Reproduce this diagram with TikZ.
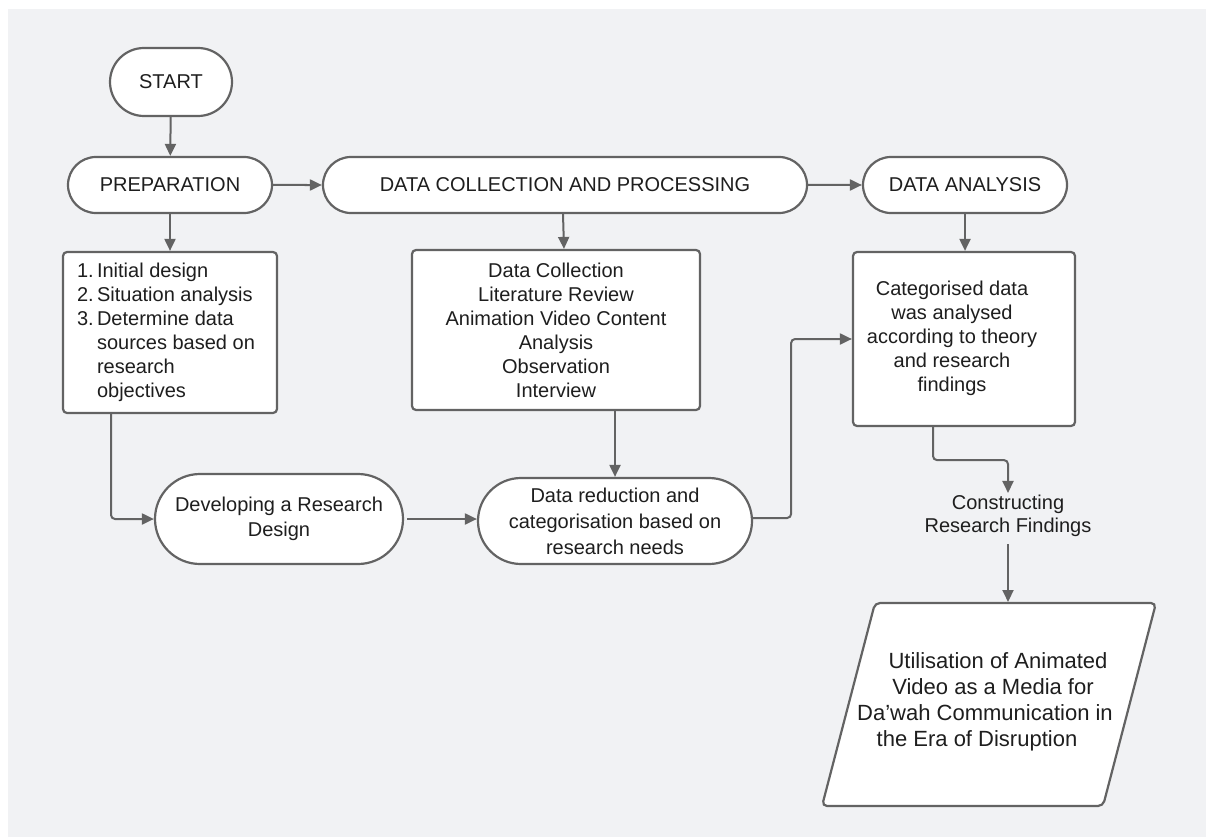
\documentclass[tikz,border=0pt]{standalone}
\usepackage{fontspec}
\setmainfont{Liberation Sans}
\usetikzlibrary{shapes.misc,arrows.meta}
\definecolor{bggray}{HTML}{F1F2F4}
\definecolor{linegray}{HTML}{636363}
\definecolor{txt}{HTML}{1E1E1E}
\begin{document}
\begin{tikzpicture}[x=1pt,y=-1pt,
  base/.style={draw=linegray, line width=2.2pt, fill=white, text=txt, inner sep=0pt,
    font=\fontsize{20}{24}\selectfont, align=center},
  stadium/.style={base, rounded rectangle},
  boxed/.style={base, rectangle, rounded corners=4pt},
  conn/.style={draw=linegray, line width=2pt, -{Triangle[length=12pt,width=11pt]}},
]
\useasboundingbox (0,0) rectangle (1206,837);
\fill[white] (0,0) rectangle (1206,837);
\fill[bggray] (8,9) rectangle (1206,837);

\node[stadium, minimum width=122pt, minimum height=68pt] (start) at (171,82) {START};
\node[stadium, minimum width=204pt, minimum height=56pt] (prep) at (170,185) {PREPARATION};
\node[stadium, minimum width=484pt, minimum height=56pt] (dcp) at (565,185) {DATA COLLECTION AND PROCESSING};
\node[stadium, minimum width=204pt, minimum height=56pt] (da) at (965,185) {DATA ANALYSIS};

\node[boxed, minimum width=214pt, minimum height=161pt] (box1) at (170,332.5)
  {\begin{tabular}{@{}l@{\,}l@{}}1. & Initial design\\ 2. & Situation analysis\\ 3. & Determine data\\ & sources based on\\ & research\\ & objectives\end{tabular}\hspace*{8pt}};
\node[boxed, minimum width=288pt, minimum height=160pt] (box2) at (556,330)
  {Data Collection\\ Literature Review\\ Animation Video Content\\ Analysis\\ Observation\\ Interview};
\node[boxed, minimum width=222pt, minimum height=174pt] (box3) at (964,339)
  {\begin{tabular}{@{}c@{}}Categorised data\\ was analysed\\ according to theory\\ and research\\ findings\end{tabular}\hspace*{24pt}};

\node[stadium, minimum width=248pt, minimum height=90pt, font=\fontsize{20}{25}\selectfont] (dev) at (279,519)
  {Developing a Research\\ Design};
\node[stadium, minimum width=274pt, minimum height=86pt, font=\fontsize{20}{26}\selectfont] (red) at (615,521)
  {Data reduction and\\ categorisation based on\\ research needs};

\node[text=txt, inner sep=2pt, align=center, font=\fontsize{20}{23}\selectfont] (cons) at (1008,516)
  {Constructing\\ Research Findings};

\draw[draw=linegray, line width=2.2pt, fill=white, rounded corners=5pt]
  (875,603) -- (1156,603) -- (1103,806) -- (822,806) -- cycle;
\coordinate (paratop) at (1008,602);
\node[text=txt, inner sep=0pt, align=center, font=\fontsize{22}{26}\selectfont] (paratext) at (985,702)
  {\hspace*{26pt}Utilisation of Animated\\ \hspace*{16pt}Video as a Media for\\ Da'wah Communication in\\ the Era of Disruption\hspace*{16pt}};

\draw[conn] (start) -- (prep);
\draw[conn] (prep) -- (dcp);
\draw[conn] (dcp) -- (da);
\draw[conn] (prep.south) -- (box1.north);
\draw[conn] ([xshift=-2pt]dcp.south) -- ([xshift=8pt]box2.north);
\draw[conn] (da.south) -- ([xshift=1pt]box3.north);
\draw[conn, rounded corners=4pt] ([xshift=-59pt]box1.south) |- (dev.west);
\draw[conn, shorten <=3pt] (dev.east) -- (red.west |- dev.east);
\draw[conn] (box2.south -| red.north) -- (red.north);
\draw[conn, rounded corners=4pt] ([yshift=3pt]red.east) -- ([xshift=38pt,yshift=3pt]red.east) |- (box3.west);
\draw[conn, rounded corners=4pt] ([xshift=-31pt]box3.south) -- ++(0,33) -| (cons.north);
\draw[conn, shorten <=5pt] (cons.south) -- (paratop);
\end{tikzpicture}
\end{document}
